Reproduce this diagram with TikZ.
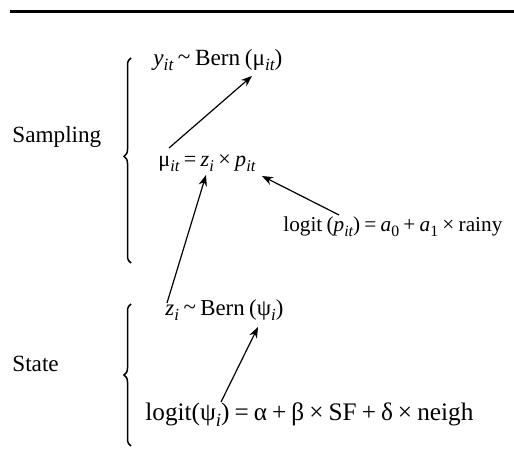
\documentclass[tikz,border=0pt]{standalone}
\usepackage{fontspec}
\setmainfont{Liberation Serif}
\usetikzlibrary{arrows.meta,decorations.pathreplacing}
\newcommand\sbs[1]{\raisebox{-0.45ex}{\fontsize{9.2}{9.2}\selectfont\itshape #1}}
\newcommand\sbn[1]{\raisebox{-0.45ex}{\fontsize{9.2}{9.2}\selectfont #1}}
\newcommand\tld{\raisebox{0.1ex}{\char`\~}}
\newcommand\gap{\hspace{0.2em}}
\newcommand\fitw[2]{\resizebox{#1pt}{!}{#2}}
\tikzset{
  txt/.style={anchor=base west, inner sep=0pt, font=\fontsize{12.4}{14}\selectfont},
  lbl/.style={anchor=base west, inner sep=0pt, font=\fontsize{11.6}{14}\selectfont},
  conn/.style={line width=0.6pt, -{Stealth[length=5.5pt,width=4.2pt]}},
  bracestyle/.style={line width=0.75pt, decorate, decoration={brace, amplitude=3.5pt}},
}
\begin{document}
\begin{tikzpicture}[x=0.5pt,y=-0.5pt]
\useasboundingbox (0,0) rectangle (514,458);
\draw[line width=1.5pt] (10,12) coordinate (ruleL) -- (514,12) coordinate (ruleR);

\node[txt] (ybern) at (153,66) {\fitw{64.5}{\textit{y}\sbs{it}\gap\tld\gap Bern\gap(μ\sbs{it})}};
\node[txt] (mu) at (158,167) {\fitw{48.5}{μ\sbs{it}\gap=\gap\textit{z}\sbs{i}\gap×\gap\textit{p}\sbs{it}}};
\node[txt] (logp) at (283,232) {\fitw{109.5}{logit\gap(\textit{p}\sbs{it})\gap=\gap\textit{a}\sbn{0}\gap+\gap\textit{a}\sbn{1}\gap×\gap rainy}};
\node[txt] (zbern) at (165,316) {\fitw{59}{\textit{z}\sbs{i}\gap\tld\gap Bern\gap(ψ\sbs{i})}};
\node[txt] (logpsi) at (145,421) {\fitw{164}{logit(ψ\sbs{i})\gap=\gap α\gap+\gap β\gap×\gap SF\gap+\gap δ\gap×\gap neigh}};
\node[lbl] (samp) at (12,143) {Sampling};
\node[lbl] (state) at (12,372) {State};

\coordinate (sampBot) at (131,263);
\coordinate (sampTop) at (131,58);
\coordinate (stateBot) at (131,446);
\coordinate (stateTop) at (131,304);
\draw[bracestyle, decoration={aspect=0.52}] (sampBot) -- (sampTop);
\draw[bracestyle] (stateBot) -- (stateTop);

\coordinate (a1s) at (169,148); \coordinate (a1e) at (252,76);
\coordinate (a2s) at (167,303); \coordinate (a2e) at (206,175);
\coordinate (a3s) at (339,215); \coordinate (a3e) at (262,176);
\coordinate (a4s) at (221,402); \coordinate (a4e) at (258,327);
\draw[conn] (a1s) -- (a1e);
\draw[conn] (a2s) -- (a2e);
\draw[conn] (a3s) -- (a3e);
\draw[conn] (a4s) -- (a4e);
\end{tikzpicture}
\end{document}
